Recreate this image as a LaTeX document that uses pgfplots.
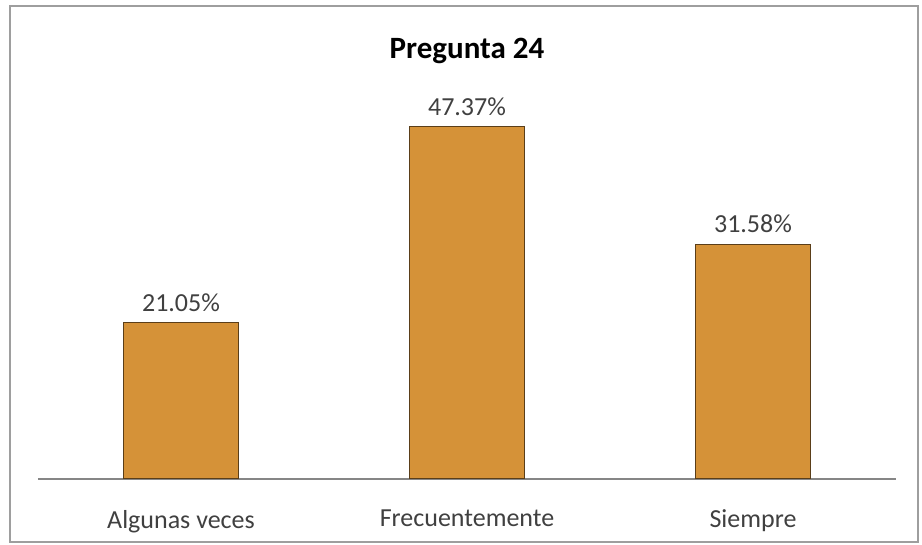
\documentclass[border=0pt]{standalone}
\usepackage{pgfplots}
\pgfplotsset{compat=1.18}
\usepackage{fontspec}
\setmainfont{Carlito}
\definecolor{barfill}{RGB}{213,146,56}
\definecolor{barline}{RGB}{90,62,25}
\definecolor{axgray}{RGB}{134,134,134}
\definecolor{txt}{RGB}{64,64,64}
\begin{document}
\begin{tikzpicture}
\useasboundingbox (-19pt,-33pt) rectangle (442pt,239.5pt);
\draw[axgray!80, line width=1.1pt] (-14pt,-31.5pt) rectangle (440pt,236.5pt);
\begin{axis}[
  at={(0,0)}, anchor=south west,
  scale only axis, width=429pt, height=186pt,
  xmin=-0.5, xmax=2.5, ymin=0, ymax=50,
  axis x line=bottom, axis y line=none,
  x axis line style={axgray, line width=0.8pt, -},
  xtick={0,1,2},
  xticklabels={Algunas veces, Frecuentemente, Siempre},
  major tick length=0pt,
  xticklabel style={font=\fontsize{13}{15}\selectfont, text=txt, yshift=-12pt},
  ybar, bar width=0.4,
  /pgf/number format/assume math mode=true,
  nodes near coords={\pgfmathprintnumber[fixed,precision=2,fixed zerofill,assume math mode=true]{\pgfplotspointmeta}\%},
  nodes near coords style={font=\fontsize{13}{15}\selectfont, text=txt, yshift=2pt},
  clip=false,
]
\addplot[fill=barfill, draw=barline, line width=0.5pt] coordinates {(0,21.05) (1,47.37) (2,31.58)};
\node[font=\bfseries\fontsize{15.5}{18}\selectfont, text=black] at (axis cs:1,0) [yshift=214pt] {Pregunta 24};
\end{axis}
\end{tikzpicture}
\end{document}
